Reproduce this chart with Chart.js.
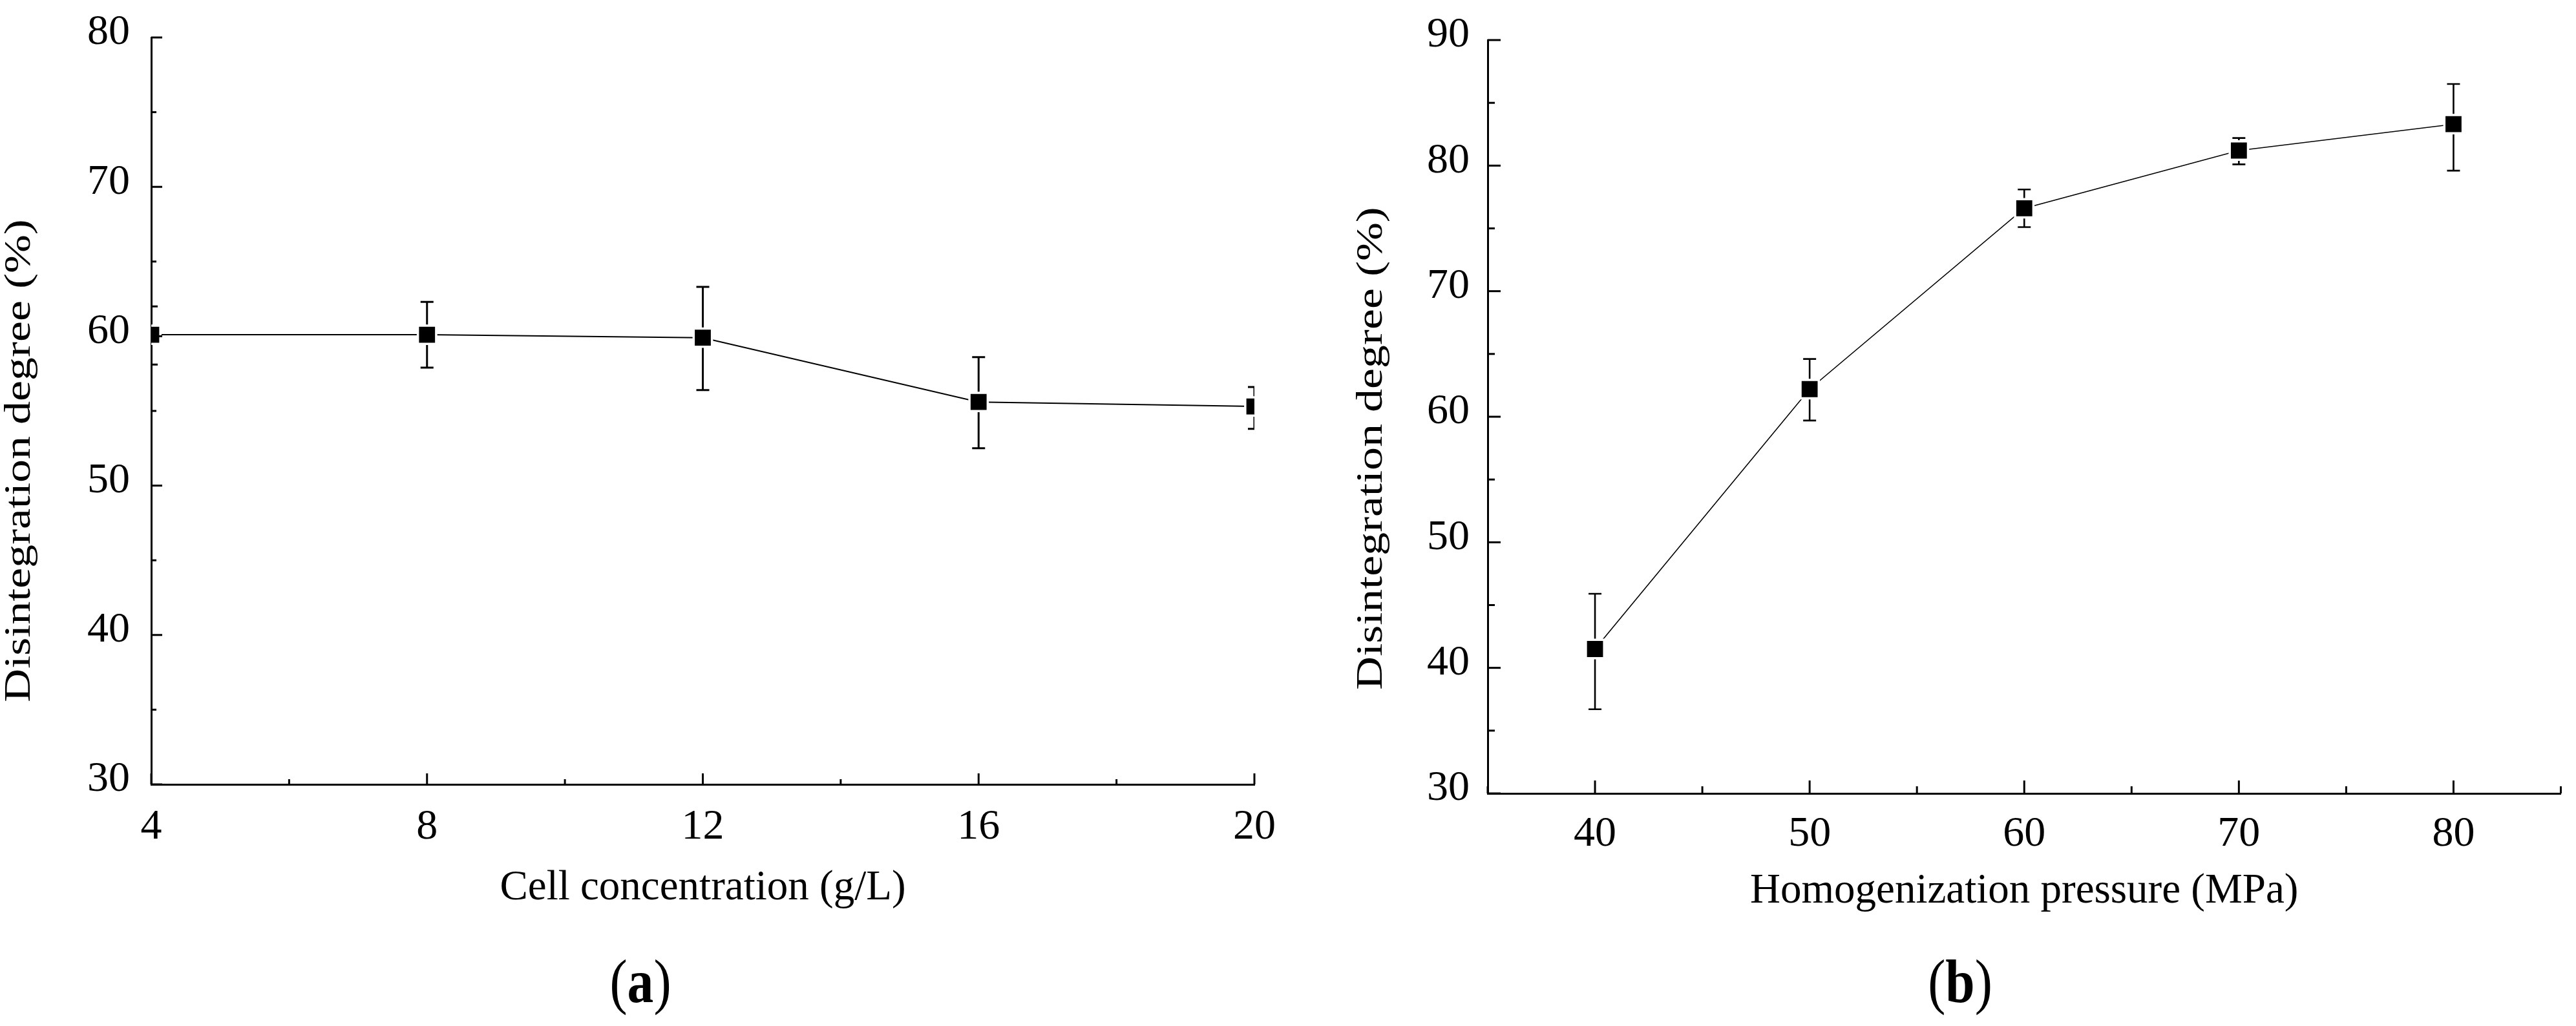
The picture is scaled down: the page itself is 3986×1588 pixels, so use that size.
<!DOCTYPE html>
<html><head><meta charset="utf-8">
<script src="https://cdn.jsdelivr.net/npm/chart.js@4/dist/chart.umd.min.js"></script>
<style>
html,body{margin:0;padding:0;background:#fff;}
#wrap{position:relative;width:3986px;height:1588px;overflow:hidden;background:#fff;}
canvas{position:absolute;top:0;}
#cA{left:0;} #cB{left:2000px;}
.panel{position:absolute;font-family:'Liberation Serif','Times New Roman',serif;font-size:96px;line-height:1;color:#000;transform:translate(-50%,-50%) scaleX(0.85);white-space:nowrap;}
</style></head><body>
<div id="wrap">
<canvas id="cA" width="2000" height="1588"></canvas>
<canvas id="cB" width="1986" height="1588"></canvas>
<div class="panel" style="left:991px;top:1519px">(<b>a</b>)</div>
<div class="panel" style="left:3033px;top:1519px">(<b>b</b>)</div>
</div>
<script>
// ---- data: panel (a) ----
const cellConc = [4, 8, 12, 16, 20];
const cellDegree = [60.1, 60.1, 59.9, 55.6, 55.3];
const cellErrHigh = [62.0, 62.3, 63.3, 58.6, 56.6];
const cellErrLow = [58.1, 57.9, 56.4, 52.5, 53.8];
const cellXTicks = [4, 8, 12, 16, 20];
const cellXMinor = [6, 10, 14, 18];
const cellYTicks = [30, 40, 50, 60, 70, 80];
const cellYMinor = [35, 45, 55, 65, 75];

// ---- data: panel (b) ----
const pressure = [40, 50, 60, 70, 80];
const pressDegree = [41.5, 62.2, 76.6, 81.2, 83.3];
const pressErrHigh = [45.9, 64.6, 78.1, 82.2, 86.5];
const pressErrLow = [36.7, 59.7, 75.1, 80.1, 79.6];
const pressXTicks = [40, 50, 60, 70, 80];
const pressXMinor = [35, 45, 55, 65, 75, 85];
const pressYTicks = [30, 40, 50, 60, 70, 80, 90];
const pressYMinor = [35, 45, 55, 65, 75, 85];

const yTitle = 'Disintegration degree (%)';
const xTitleA = 'Cell concentration (g/L)';
const xTitleB = 'Homogenization pressure (MPa)';

const FONT = 'Liberation Serif';

const errorBarPlugin = {
  id: 'errorBars',
  beforeDatasetsDraw(chart, args, o) {
    const {ctx, chartArea: a, scales: {x, y}} = chart;
    ctx.save();
    ctx.beginPath();
    ctx.rect(a.left, a.top, a.right - a.left, a.bottom - a.top);
    ctx.clip();
    ctx.strokeStyle = '#000';
    ctx.lineWidth = o.width;
    o.xs.forEach((xv, i) => {
      const px = x.getPixelForValue(xv);
      const hi = y.getPixelForValue(o.high[i]);
      const lo = y.getPixelForValue(o.low[i]);
      ctx.beginPath();
      ctx.moveTo(px, hi); ctx.lineTo(px, lo);
      ctx.moveTo(px - o.cap, hi); ctx.lineTo(px + o.cap, hi);
      ctx.moveTo(px - o.cap, lo); ctx.lineTo(px + o.cap, lo);
      ctx.stroke();
    });
    ctx.restore();
  }
};

const innerTicksPlugin = {
  id: 'innerTicks',
  afterDraw(chart, args, o) {
    const {ctx, chartArea: a, scales: {x, y}} = chart;
    ctx.save();
    ctx.strokeStyle = '#000';
    ctx.lineWidth = o.width;
    const seg = (x1, y1, x2, y2) => { ctx.beginPath(); ctx.moveTo(x1, y1); ctx.lineTo(x2, y2); ctx.stroke(); };
    o.xMajor.forEach(v => { const p = x.getPixelForValue(v); seg(p, a.bottom, p, a.bottom - o.major); });
    o.xMinor.forEach(v => { const p = x.getPixelForValue(v); seg(p, a.bottom, p, a.bottom - o.minor); });
    o.yMajor.forEach(v => { const p = y.getPixelForValue(v); seg(a.left, p, a.left + o.major, p); });
    o.yMinor.forEach(v => { const p = y.getPixelForValue(v); seg(a.left, p, a.left + o.minor, p); });
    ctx.restore();
  }
};

const yTitlePlugin = {
  id: 'yTitle',
  afterDraw(chart, args, o) {
    const ctx = chart.ctx;
    ctx.save();
    ctx.translate(o.x, o.y);
    ctx.rotate(-Math.PI / 2);
    ctx.scale(1, o.squeeze);
    ctx.font = o.size + 'px "' + FONT + '"';
    ctx.fillStyle = '#000';
    ctx.textAlign = 'center';
    ctx.textBaseline = 'middle';
    ctx.fillText(o.text, 0, 0);
    ctx.restore();
  }
};

function makeChart(id, xs, ys, hi, lo, xr, yr, xTicks, xMinor, yTicks, yMinor, xTitle, g) {
  return new Chart(document.getElementById(id), {
    type: 'line',
    data: {
      datasets: [{
        data: xs.map((xv, i) => ({x: xv, y: ys[i]})),
        borderColor: '#000',
        borderWidth: g.lineW,
        pointStyle: 'rect',
        pointRadius: 20,
        pointBackgroundColor: '#000',
        pointBorderColor: '#fff',
        pointBorderWidth: 3.5,
        tension: 0,
        clip: 0,
        fill: false
      }]
    },
    options: {
      responsive: false,
      devicePixelRatio: 1,
      animation: false,
      events: [],
      layout: {padding: {left: 0, top: g.top, right: g.right, bottom: 0}},
      scales: {
        x: {
          type: 'linear', min: xr[0], max: xr[1],
          afterBuildTicks: s => { s.ticks = xTicks.map(v => ({value: v})); },
          afterFit: s => { s.height = g.xh; },
          grid: {display: false},
          border: {display: true, color: '#000', width: 3},
          ticks: {color: '#000', padding: g.xpad, maxRotation: 0, autoSkip: false,
                  font: {family: FONT, size: 66, lineHeight: 1}, callback: v => String(v)},
          title: {display: true, text: xTitle, color: '#000',
                  font: {family: FONT, size: 65, lineHeight: 1}, padding: {top: 0, bottom: g.tpad}}
        },
        y: {
          type: 'linear', min: yr[0], max: yr[1],
          afterBuildTicks: s => { s.ticks = yTicks.map(v => ({value: v})); },
          afterFit: s => { s.width = g.yw; },
          grid: {display: false},
          border: {display: true, color: '#000', width: 3},
          ticks: {color: '#000', padding: g.ypad, labelOffset: -7, autoSkip: false,
                  font: {family: FONT, size: 66, lineHeight: 1}, callback: v => String(v)},
          title: {display: false}
        }
      },
      plugins: {
        legend: {display: false},
        tooltip: {enabled: false},
        errorBars: {xs: xs, high: hi, low: lo, width: g.errW, cap: 10},
        innerTicks: {xMajor: xTicks, xMinor: xMinor, yMajor: yTicks, yMinor: yMinor,
                     major: g.major, minor: g.minor, width: 3},
        yTitle: {text: yTitle, x: g.tx, y: g.ty, size: 72, squeeze: 0.8}
      }
    },
    plugins: [errorBarPlugin, innerTicksPlugin, yTitlePlugin]
  });
}

makeChart('cA', cellConc, cellDegree, cellErrHigh, cellErrLow, [4, 20], [30, 80],
  cellXTicks, cellXMinor, cellYTicks, cellYMinor, xTitleA,
  {top: 46, right: 55, yw: 234, xh: 374, xpad: 26, tpad: 181, ypad: 25,
   lineW: 2, errW: 3, major: 17, minor: 8, tx: 31, ty: 713});

makeChart('cB', pressure, pressDegree, pressErrHigh, pressErrLow, [35, 85], [30, 90],
  pressXTicks, pressXMinor, pressYTicks, pressYMinor, xTitleB,
  {top: 62, right: 11, yw: 302, xh: 360, xpad: 23, tpad: 176, ypad: 20,
   lineW: 1.6, errW: 2.6, major: 20, minor: 11, tx: 123, ty: 694});
</script>
</body></html>
